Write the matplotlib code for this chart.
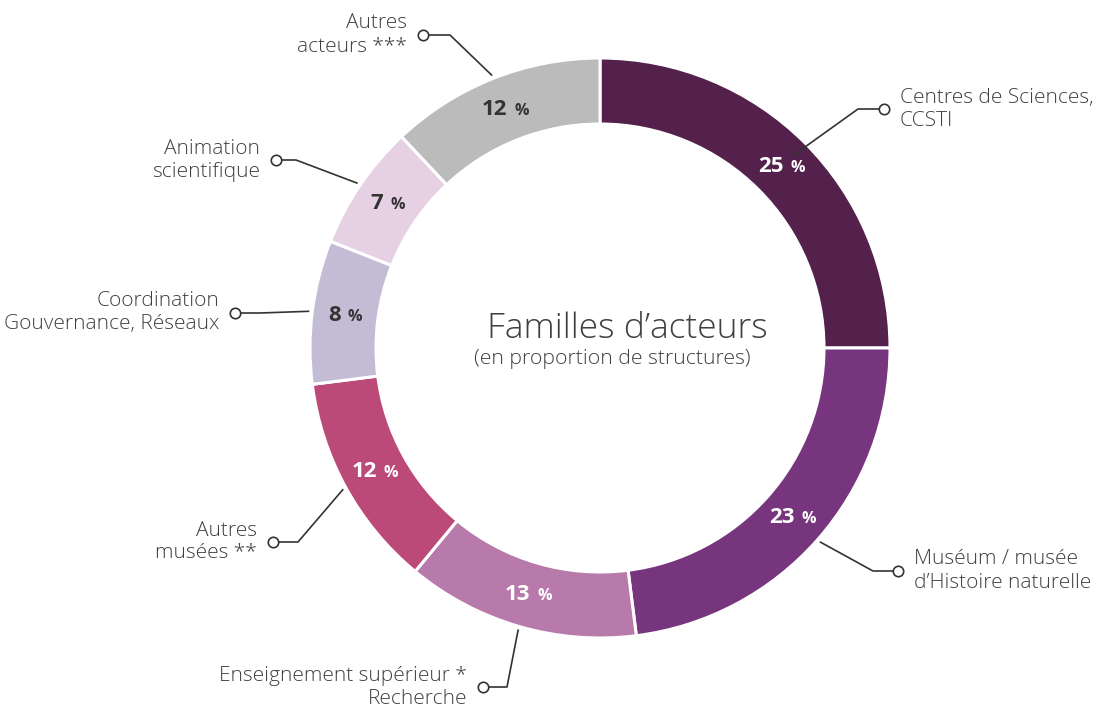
import numpy as np
import matplotlib
matplotlib.use("Agg")
import matplotlib.pyplot as plt
from matplotlib.offsetbox import TextArea, HPacker, AnnotationBbox

# ---- data ----
categories = [
    "Centres de Sciences,\nCCSTI",
    "Muséum / musée\nd\u2019Histoire naturelle",
    "Enseignement supérieur *\nRecherche",
    "Autres\nmusées **",
    "Coordination\nGouvernance, Réseaux",
    "Animation\nscientifique",
    "Autres\nacteurs ***",
]
values = [25, 23, 13, 12, 8, 7, 12]
colors = ["#54204c", "#77357d", "#b77aab", "#bb4a78", "#c4bcd5", "#e6d0e4", "#bbbbbb"]
pct_colors = ["white", "white", "white", "white", "#333333", "#333333", "#333333"]
title = "Familles d\u2019acteurs"
subtitle = "(en proportion de structures)"

# ---- layout (pixel coordinates, y from top) ----
W, H = 1100, 711
CX, CY = 600, 348
R_OUT, WIDTH = 290, 66
# per label: (elbow x, elbow y, circle x, text side, leader start radius)
label_layout = [
    (858, 109, 884, "left", 270),
    (873, 571, 898, "left", 293),
    (507, 687, 483, "right", 293),
    (298, 542, 273, "right", 293),
    (260, 313, 235, "right", 293),
    (296, 160, 276, "right", 293),
    (450, 35, 423, "right", 293),
]

plt.rcParams['font.family'] = ['Open Sans', 'DejaVu Sans']
fig = plt.figure(figsize=(W / 100, H / 100), dpi=100)
ax = fig.add_axes([0, 0, 1, 1])

def fy(py):
    return H - py

wedges, _ = ax.pie(values, colors=colors, startangle=90, counterclock=False,
                   center=(CX, fy(CY)), radius=R_OUT,
                   wedgeprops=dict(width=WIDTH, edgecolor='white', linewidth=2.2),
                   frame=True)
ax.set_xlim(0, W)
ax.set_ylim(0, H)
ax.set_aspect('equal')
ax.axis('off')

total = sum(values)
start = 90.0
r_mid = R_OUT - WIDTH / 2
for i, v in enumerate(values):
    span = 360.0 * v / total
    mid = np.deg2rad(start - span / 2)
    start -= span
    # percentage label
    px = CX + r_mid * np.cos(mid)
    py = fy(CY) + r_mid * np.sin(mid)
    num = TextArea(str(v), textprops=dict(fontsize=16, fontweight='bold', color=pct_colors[i]))
    pc = TextArea("%", textprops=dict(fontsize=11.5, fontweight='bold', color=pct_colors[i]))
    box = HPacker(children=[num, pc], align='baseline', pad=0, sep=5)
    ab = AnnotationBbox(box, (px, py), frameon=False, box_alignment=(0.5, 0.5), pad=0)
    ax.add_artist(ab)
    # leader line
    ex, ey, cx, side, rs = label_layout[i]
    sx = CX + rs * np.cos(mid)
    sy = fy(CY) + rs * np.sin(mid)
    ax.plot([sx, ex, cx], [sy, fy(ey), fy(ey)], color='#333333', lw=1.2,
            solid_capstyle='butt', zorder=5)
    ax.plot([cx], [fy(ey)], marker='o', ms=7.5, mfc='white', mec='#333333', mew=1.2, zorder=6)
    if side == 'left':
        ax.text(cx + 16, fy(ey), categories[i], ha='left', va='center', fontsize=15,
                fontweight='light', color='#404040', linespacing=1.2)
    else:
        ax.text(cx - 16, fy(ey), categories[i], ha='right', va='center', fontsize=15,
                fontweight='light', color='#404040', linespacing=1.2)

ax.text(CX + 27, fy(329), title, ha='center', va='center', fontsize=25.5,
        fontweight='light', color='#404040')
ax.text(CX + 12, fy(359), subtitle, ha='center', va='center', fontsize=15.3,
        fontweight='light', color='#404040')

fig.savefig("out.png", dpi=100)
